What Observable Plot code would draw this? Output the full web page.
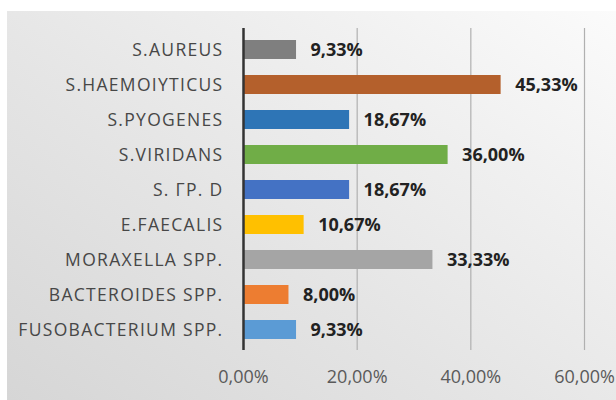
<!DOCTYPE html>
<html>
<head>
<meta charset="utf-8">
<script src="https://cdn.jsdelivr.net/npm/d3@7"></script>
<script src="https://cdn.jsdelivr.net/npm/@observablehq/plot@0.6"></script>
<style>
  html, body { margin: 0; padding: 0; background: #ffffff; }
  #wrap { position: relative; width: 616px; height: 400px; overflow: hidden; }
  #bg { position: absolute; left: 7px; top: 11px; right: 0; bottom: 0;
        background: linear-gradient(35deg, #d6d6d6 0%, #e4e4e4 40%, #f1f1f1 75%, #fbfbfb 100%); }
  #chart { position: absolute; left: 0; top: 0; }
  svg { font-family: "Open Sans", Lato, sans-serif; }
  .cat text { letter-spacing: 1.3px; }
</style>
</head>
<body>
<div id="wrap"><div id="bg"></div><div id="chart"></div></div>
<script>
const categories = ["S.AUREUS", "S.HAEMOIYTICUS", "S.PYOGENES", "S.VIRIDANS", "S. ΓΡ. D", "E.FAECALIS", "MORAXELLA SPP.", "BACTEROIDES SPP.", "FUSOBACTERIUM SPP."];
const values = [9.33, 45.33, 18.67, 36.00, 18.67, 10.67, 33.33, 8.00, 9.33];
const colors = ["#7f7f7f", "#b4602c", "#2e75b6", "#70ad47", "#4472c4", "#ffc000", "#a5a5a5", "#ed7d31", "#5b9bd5"];
const xTicks = [0, 20, 40, 60];

const data = categories.map((c, i) => ({category: c, value: values[i], color: colors[i]}));
const loc = d3.formatLocale({decimal: ",", thousands: ".", grouping: [3], currency: ["", "€"]});
const fmt = v => loc.format(".2f")(v) + "%";

const chart = Plot.plot({
  width: 616,
  height: 400,
  marginLeft: 243,
  marginRight: 32,
  marginTop: 28,
  marginBottom: 50,
  style: {background: "transparent", fontSize: "17px"},
  x: {domain: [0, 60], axis: null},
  y: {domain: categories, paddingInner: 0.47, paddingOuter: 0.215, axis: null},
  marks: [
    Plot.ruleX(xTicks.filter(t => t > 0), {stroke: "#b0b0b0", strokeWidth: 1.2}),
    Plot.barX(data, {y: "category", x: "value", fill: "color"}),
    Plot.ruleX([0], {stroke: "#333333", strokeWidth: 2.5}),
    Plot.axisY({tickSize: 0, tickPadding: 20, fontSize: 17.5, color: "#474747", label: null, className: "cat"}),
    Plot.axisX(xTicks, {tickSize: 0, tickPadding: 20, fontSize: 18, color: "#5a5a5a", label: null, tickFormat: fmt}),
    Plot.text(data, {y: "category", x: "value", text: d => fmt(d.value), dx: 14, textAnchor: "start", fontWeight: "bold", fontSize: 18, fill: "#222222"})
  ]
});
document.getElementById("chart").appendChild(chart);
</script>
</body>
</html>
